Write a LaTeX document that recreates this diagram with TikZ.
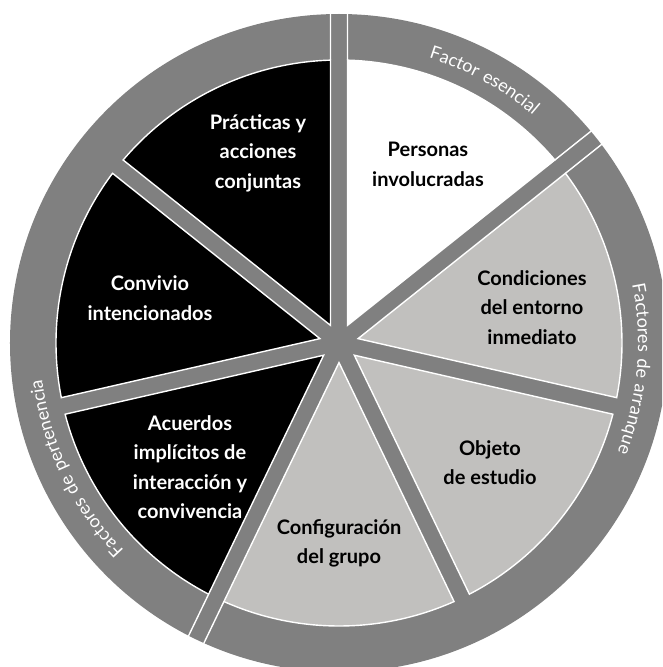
\documentclass[tikz,border=0pt]{standalone}
\usepackage{fontspec}
\setmainfont{Lato}
\newfontfamily\ringfont[LetterSpace=8]{Lato}
\usetikzlibrary{decorations.text}
\definecolor{ringgray}{RGB}{128,128,128}
\definecolor{lightsec}{RGB}{193,192,190}
\begin{document}
\begin{tikzpicture}[x=1pt,y=1pt,
  secline/.style={draw=white, line width=1.4pt, line join=miter},
  cutline/.style={draw=white, line width=1.4pt},
  lbl/.style={font=\fontsize{20}{29.5}\selectfont\bfseries, align=center, inner sep=0pt},
  lbldark/.style={lbl, text=black},
  lbllight/.style={lbl, text=white},
  ringtext/.style={decorate, decoration={text along path, text align=center, text color=white, text={|\ringfont\fontsize{18}{18}\selectfont|#1}}}
]
\def\hw{8.5}
\def\rin{283}
\def\rout{329}
\useasboundingbox (-339,-324) rectangle (323,343);
\clip (-339,-324) rectangle (323,343);
% gray base disc
\fill[ringgray] (0,0) circle[radius=\rout];
% sectors
\foreach \k/\col in {0/white,1/lightsec,2/lightsec,3/lightsec,4/black,5/black,6/black}{
  \pgfmathsetmacro\aA{90-\k*360/7}
  \pgfmathsetmacro\aB{\aA-360/7}
  \pgfmathsetmacro\bis{\aA-180/7}
  \pgfmathsetmacro\dd{\hw/sin(180/7)}
  \pgfmathsetmacro\del{asin(\hw/\rin)}
  \pgfmathsetmacro\pA{\aA-\del}
  \pgfmathsetmacro\pB{\aB+\del}
  \draw[secline, fill=\col] (\bis:\dd) -- (\pA:\rin) arc[start angle=\pA, end angle=\pB, radius=\rin] -- cycle;
}
% ring cuts
\foreach \a in {90, 38.5714, -115.7143}{
  \foreach \s in {-1,1}{
    \pgfmathsetmacro\qA{\a+\s*asin(\hw/\rin)}
    \pgfmathsetmacro\qB{\a+\s*asin(\hw/(\rout+4))}
    \draw[cutline] (\qA:\rin) -- (\qB:\rout+4);
  }
}
% ring labels
\path[ringtext={Factor esencial}] (85:299) arc[start angle=85, end angle=37, radius=299];
\path[ringtext={Factores de arranque}] (20:299) arc[start angle=20, end angle=-30, radius=299];
\path[ringtext={Factores de pertenencia}] (235:299) arc[start angle=235, end angle=176, radius=299];
% sector labels
\node[lbldark] (personas) at (89,178.5) {Personas\\involucradas};
\node[lbldark] (condiciones) at (193,35.5) {Condiciones\\del entorno\\inmediato};
\node[lbldark] (objeto) at (151,-119.5) {Objeto\\de estudio};
\node[lbldark] (config) at (0,-200.5) {Configuración\\del grupo};
\node[lbllight] (acuerdos) at (-149,-124) {Acuerdos\\implícitos de\\interacción y\\convivencia};
\node[lbllight] (convivio) at (-189,45) {Convivio\\intencionados};
\node[lbllight] (practicas) at (-81,190) {Prácticas y\\acciones\\conjuntas};
\end{tikzpicture}
\end{document}
